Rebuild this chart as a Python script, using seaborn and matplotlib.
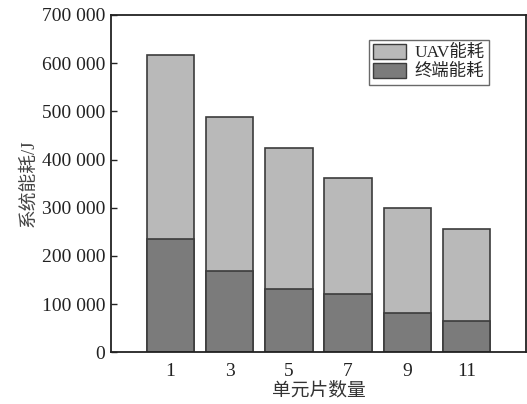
import matplotlib
matplotlib.use("Agg")
import matplotlib.pyplot as plt
import numpy as np
import pandas as pd
import seaborn as sns
from matplotlib.patches import Patch
from matplotlib.ticker import FuncFormatter

# data
slice_counts = ["1", "3", "5", "7", "9", "11"]
terminal_energy = [235000, 169000, 131000, 120000, 81000, 65000]
uav_energy = [382000, 319000, 293000, 242000, 218000, 191000]
y_ticks = [0, 100000, 200000, 300000, 400000, 500000, 600000, 700000]

LIGHT = "#b9b9b9"
DARK = "#7b7b7b"
EDGE = "#3c3c3c"

sns.set_style("ticks")
plt.rcParams["font.family"] = ["Liberation Serif", "Noto Sans CJK SC"]

df = pd.DataFrame({
    "slices": slice_counts,
    "terminal": terminal_energy,
    "uav": uav_energy,
})
df["total"] = df["terminal"] + df["uav"]

fig = plt.figure(figsize=(5.27, 4.04), dpi=100)
ax = fig.add_axes([0.2106, 0.128, 0.7874, 0.835])

sns.barplot(data=df, x="slices", y="total", order=slice_counts, color=LIGHT,
            saturation=1, edgecolor=EDGE, linewidth=1.2, width=0.8, ax=ax)
sns.barplot(data=df, x="slices", y="terminal", order=slice_counts, color=DARK,
            saturation=1, edgecolor=EDGE, linewidth=1.2, width=0.8, ax=ax)

ax.set_xlim(-1.0, 6.0)
ax.set_ylim(0, 700000)
ax.set_yticks(y_ticks)
ax.yaxis.set_major_formatter(FuncFormatter(lambda v, _: f"{int(v):,}".replace(",", " ")))
ax.tick_params(axis="y", direction="in", length=4, width=1.0, labelsize=14,
               colors="#222222", pad=4)
ax.tick_params(axis="x", length=0, labelsize=14, colors="#222222", pad=8)

ax.set_xlabel("单元片数量", fontsize=13.5, color="#333333", labelpad=1)
ax.set_ylabel("系统能耗/J", fontsize=13.5, color="#444444", labelpad=3)

for side in ["left", "right", "top", "bottom"]:
    ax.spines[side].set_visible(True)
    ax.spines[side].set_color("#222222")
    ax.spines[side].set_linewidth(1.3)

handles = [
    Patch(facecolor=LIGHT, edgecolor=EDGE, linewidth=1.0, label="UAV能耗"),
    Patch(facecolor=DARK, edgecolor=EDGE, linewidth=1.0, label="终端能耗"),
]
leg = ax.legend(handles=handles, loc="upper right", bbox_to_anchor=(0.911, 0.926),
                borderaxespad=0, fontsize=12.5, frameon=True, fancybox=False,
                handlelength=1.9, handleheight=0.9, labelspacing=0.1,
                handletextpad=0.5, borderpad=0.25)
leg.get_frame().set_edgecolor("#444444")
leg.get_frame().set_linewidth(1.0)

fig.savefig("out.png", dpi=100)
